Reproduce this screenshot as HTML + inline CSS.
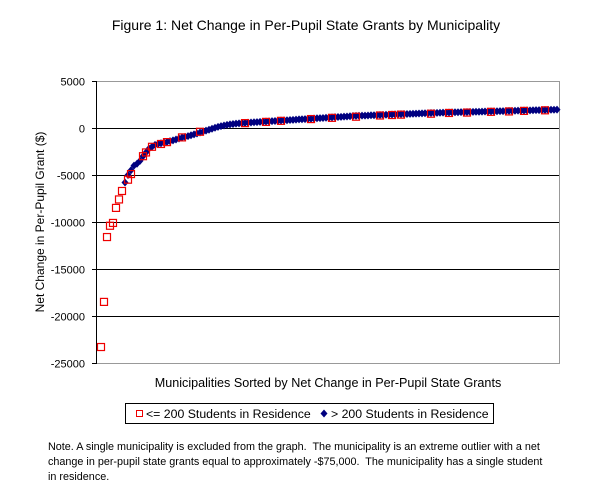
<!DOCTYPE html>
<html><head><meta charset="utf-8">
<style>
body{margin:0;background:#fff;font-family:"Liberation Sans",Arial,sans-serif;}
#wrap{position:relative;width:612px;height:491px;overflow:hidden;}
svg text{font-family:"Liberation Sans",Arial,sans-serif;white-space:pre;}
</style></head>
<body>
<div id="wrap">
<svg id="chart" width="612" height="491">
<text x="306" y="30" text-anchor="middle" font-size="14">Figure 1: Net Change in Per-Pupil State Grants by Municipality</text>
<text transform="translate(44,222) rotate(-90)" text-anchor="middle" font-size="12">Net Change in Per-Pupil Grant ($)</text>
<text x="328" y="387" text-anchor="middle" font-size="12.6">Municipalities Sorted by Net Change in Per-Pupil State Grants</text>
<g id="grid"></g>
<g id="yticks"></g>
<g id="marks"></g>
<g>
<rect x="125.5" y="403.5" width="368" height="20" fill="#fff" stroke="#000"/>
<rect x="136.5" y="410.5" width="6" height="6" fill="none" stroke="#e00"/>
<text x="146" y="418" font-size="12.3">&lt;= 200 Students in Residence</text>
<path d="M324,409.5 L327.5,413.5 L324,417.5 L320.5,413.5Z" fill="#000080"/>
<text x="331" y="418" font-size="12.3">&gt; 200 Students in Residence</text>
</g>
<g font-size="10.8">
<text x="48" y="450" xml:space="preserve">Note. A single municipality is excluded from the graph.  The municipality is an extreme outlier with a net</text>
<text x="48" y="465" xml:space="preserve">change in per-pupil state grants equal to approximately -$75,000.  The municipality has a single student</text>
<text x="48" y="480">in residence.</text>
</g>
</svg>
</div>
<script>
const yTicks=[5000,0,-5000,-10000,-15000,-20000,-25000];
const yTickLabels=["5000","0","-5000","-10000","-15000","-20000","-25000"];
const smallRank=[0,1,2,3,4,5,6,7,9,10,14,15,17,20,22,27,33,48,55,60,70,77,85,93,97,100,110,116,122,130,136,141,148];
const smallVal=[-23300,-18500,-11600,-10400,-10100,-8500,-7600,-6700,-5500,-4900,-3000,-2600,-2000,-1700,-1500,-1000,-400,520,650,760,950,1080,1200,1330,1380,1420,1520,1600,1640,1720,1760,1820,1880];
const largeStart=8;
const largeVal=[-5800,-5000,-4500,-4000,-3800,-3500,-3000,-2600,-2200,-2000,-1800,-1700,-1620,-1550,-1470,-1400,-1320,-1220,-1120,-1030,-950,-860,-770,-680,-580,-480,-380,-280,-180,-80,20,120,200,270,330,380,420,460,490,520,
550,575,590,615,630,655,670,695,710,735,750,770,795,810,830,855,870,890,915,930,950,975,990,1010,1035,1050,1070,1095,1110,1130,1155,1170,1190,1215,1230,1250,1270,1290,1300,1310,1320,1335,1350,
1360,1375,1385,1400,1410,1425,1435,1450,1460,1470,1485,1495,1505,1520,1530,1540,1555,1565,1575,1590,1600,1610,1620,1630,1640,1650,
1660,1670,1675,1685,1695,1700,1710,1720,1725,1735,1745,1750,1760,1770,1775,1785,1795,1800,1810,1820,1825,1835,1845,1850,1860,1870,1875,1885,1895,1900,1910,1920,1925,1935,1945,1950];
const NS="http://www.w3.org/2000/svg";
const X0=96,X1=559,Y0=81,Y1=363;
const maxRank=largeStart+largeVal.length-1;
function xs(i){return 101+i*(557-101)/maxRank;}
function ys(v){return Y0+(5000-v)*(Y1-Y0)/30000;}
function mk(t,a){const e=document.createElementNS(NS,t);for(const k in a)e.setAttribute(k,a[k]);return e;}
const grid=document.getElementById('grid'),yt=document.getElementById('yticks'),marks=document.getElementById('marks');
const border=mk('rect',{x:X0+0.5,y:Y0+0.5,width:X1-X0,height:Y1-Y0,fill:'none',stroke:'#999'});


grid.appendChild(border);
yTicks.forEach((v,k)=>{
  const y=Math.round(ys(v))+0.5;
  if(v<5000&&v>-25000){
    const l=mk('line',{x1:X0,x2:X1,y1:y,y2:y,stroke:'#000'});
    
    
    grid.appendChild(l);
  }
  const tk=mk('line',{x1:X0-4,x2:X0,y1:y,y2:y,stroke:'#000'});
  
  
  yt.appendChild(tk);
  const t=mk('text',{x:X0-11,y:y+4,'text-anchor':'end','font-size':'11'});
  t.textContent=yTickLabels[k];
  
  
  yt.appendChild(t);
});
const ax=mk('line',{x1:X0+0.5,x2:X0+0.5,y1:Y0,y2:Y1+1,stroke:'#000'});


yt.appendChild(ax);
largeVal.forEach((v,k)=>{
  const x=xs(largeStart+k),y=ys(v);
  const p=mk('path',{d:`M${x},${y-4} L${x+3.5},${y} L${x},${y+4} L${x-3.5},${y}Z`,fill:'#000080'});
  
  
  marks.appendChild(p);
});
smallRank.forEach((r,k)=>{
  const x=xs(r),y=ys(smallVal[k]);
  const s=mk('rect',{x:x-3.5,y:y-3.5,width:7,height:7,fill:'none',stroke:'#e00','stroke-width':1.2});
  
  
  marks.appendChild(s);
});
</script>
</body></html>
